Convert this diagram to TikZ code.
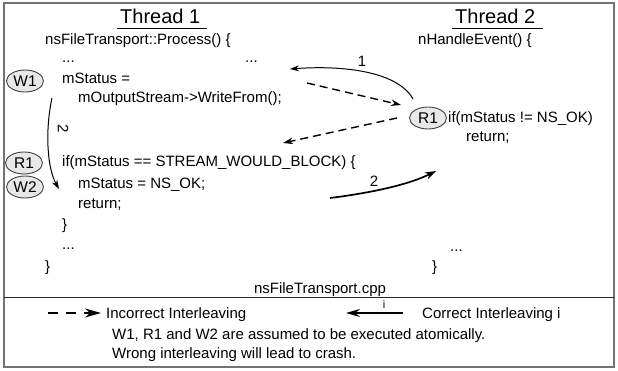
\documentclass[tikz,border=0pt]{standalone}
\usepackage{fontspec}
\setmainfont{Liberation Sans}
\usetikzlibrary{arrows.meta,shapes.geometric}

\begin{document}
\begin{tikzpicture}[x=1pt,y=-1pt,
  code/.style={anchor=base west,inner sep=0pt,font=\fontsize{15}{18}\selectfont},
  title/.style={anchor=base west,inner sep=0pt,font=\fontsize{20}{23}\selectfont},
  op/.style={ellipse,draw=black!75,fill=black!9,line width=0.9pt,
             minimum width=37pt,minimum height=22pt,inner sep=0pt,
             font=\fontsize{15.5}{18}\selectfont},
  flow/.style={line width=1pt,-{Stealth[length=9pt,width=6pt]}},
  bold flow/.style={line width=1.7pt,-{Stealth[length=11pt,width=7.5pt]}},
  wrong/.style={line width=1.4pt,dash pattern=on 8pt off 5pt,-{Stealth[length=10pt,width=6.5pt]}},
  num/.style={inner sep=0pt,font=\fontsize{15}{18}\selectfont}]

\useasboundingbox (0,0) rectangle (618,371);

% frame and divider
\draw[black!55,line width=1.6pt] (4,3) rectangle (614,367);
\draw[black!85,line width=1pt] (4,297) -- (614,297);

% thread headings
\node[title] (t1) at (120,24) {Thread 1};
\draw[line width=1.1pt] (117,28.5) -- (207,28.5);
\node[title] (t2) at (455,24) {Thread 2};
\draw[line width=1.1pt] (452,28.5) -- (543,28.5);

% thread 1 code
\node[code] (p0) at (45,45) {nsFileTransport::Process() \{};
\node[code] (p1) at (62,63) {...};
\node[code] (p1b) at (245,63) {...};
\node[code] (p2) at (62,84) {mStatus =};
\node[code] (p3) at (78,103) {mOutputStream->WriteFrom();};
\node[code] (p4) at (62,167) {if(mStatus == STREAM\_WOULD\_BLOCK) \{};
\node[code] (p5) at (78,189) {mStatus = NS\_OK;};
\node[code] (p6) at (78,209) {return;};
\node[code] (p7) at (62,230) {\}};
\node[code] (p8) at (62,250) {...};
\node[code] (p9) at (45,272) {\}};

% thread 2 code
\node[code] (h0) at (418,45) {nHandleEvent() \{};
\node[code] (h1) at (448,123) {if(mStatus != NS\_OK)};
\node[code] (h2) at (466,142) {return;};
\node[code] (h3) at (450,252) {...};
\node[code] (h4) at (432,272) {\}};

\node[code,anchor=base] (file) at (320,294) {nsFileTransport.cpp};

% atomic operations
\node[op] (w1) at (25,81) {W1};
\node[op] (r1) at (24,163) {R1};
\node[op] (w2) at (25,187) {W2};
\node[op] (r1b) at (428,118) {R1};

% interleaving arrows
\coordinate (c1s) at (413,99);
\coordinate (c1e) at (290,69);
\draw[flow] (c1s) .. controls (398,72) and (345,65) .. (c1e);
\node[num] (n1) at (362,61) {1};

\coordinate (d1s) at (307,83);
\coordinate (d1e) at (401,105);
\draw[wrong] (d1s) -- (d1e);
\coordinate (d2s) at (397,118);
\coordinate (d2e) at (283,143);
\draw[wrong] (d2s) -- (d2e);

\coordinate (c2s) at (330,198);
\coordinate (c2e) at (436,171);
\draw[bold flow] (c2s) .. controls (370,193) and (408,185) .. (c2e);
\node[num] (n2) at (374,181) {2};

\coordinate (l2s) at (52,98);
\coordinate (l2e) at (59,189);
\draw[flow] (l2s) .. controls (45,130) and (47,168) .. (l2e);
\node[num,rotate=-90] (n3) at (63,129) {2};

% legend
\coordinate (ls) at (48,313);
\coordinate (le) at (101,313);
\draw[line width=1.2pt,dash pattern=on 10pt off 8pt,-{Stealth[length=16pt,width=9pt]}] (ls) -- (le);
\node[code] (lg1) at (106,318) {Incorrect Interleaving};
\coordinate (ks) at (403,313);
\coordinate (ke) at (346,313);
\draw[line width=1.1pt,-{Stealth[length=14pt,width=8pt]}] (ks) -- (ke);
\node[inner sep=0pt,font=\fontsize{11}{13}\selectfont] (ki) at (384,305) {i};
\node[code] (lg2) at (422,318) {Correct Interleaving i};
\node[code] (note1) at (112,339) {W1, R1 and W2 are assumed to be executed atomically.};
\node[code] (note2) at (112,358) {Wrong interleaving will lead to crash.};
\end{tikzpicture}
\end{document}
